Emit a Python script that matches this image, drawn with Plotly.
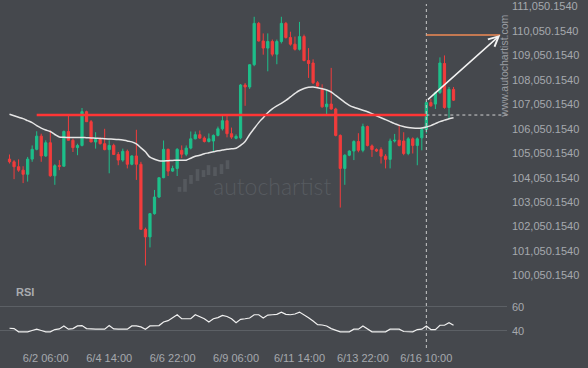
import plotly.graph_objects as go

# ---- data ----
idx = list(range(99))

opens = [104810,104700,104500,104360,104190,104810,105210,105750,104940,105480,
         104130,104540,104520,105940,105580,105280,105370,106750,106340,105510,
         105620,105440,105200,105370,105000,104770,105130,104600,104940,104600,
         101940,101630,102580,103260,104050,105210,104320,104430,105170,105010,
         105260,105640,105810,105670,105530,105550,105780,106050,106380,105850,
         105660,105680,107840,107760,108670,110360,109640,109350,109620,109100,
         109620,110360,109780,109510,109300,109820,108840,108740,107930,107660,
         106950,107060,106860,105780,104430,104970,105140,105530,105170,106140,
         105350,105200,105200,104930,104800,105550,105580,105550,105040,105640,
         105370,105680,106020,107120,107060,107530,108720,106920,107660]
highs = [105000,104770,104800,104520,104900,105370,105950,105850,105580,105980,
         104600,104770,105980,106590,105650,105440,106900,106790,106410,105910,
         105710,106050,105580,105440,105100,105240,105200,104970,106010,104700,
         102010,102610,103550,104050,105570,105240,104540,105260,105370,105370,
         105940,105940,105980,105740,105860,105820,106140,106590,106590,106100,
         105820,107880,107920,108690,110630,110420,109950,109950,109700,109700,
         110630,110420,110020,109820,110420,109900,109350,108890,108000,107870,
         107660,108540,106910,105820,105010,105170,105580,105870,106260,106180,
         105410,105250,105290,105010,105650,105840,106220,105910,105710,105700,
         105700,106100,107190,107270,107570,108970,109050,107760,107760]
lows = [104630,103990,104290,103830,103890,104700,105170,104700,104900,104090,
        103760,104360,104520,105580,105100,104970,105330,106340,105510,105240,
        105410,105170,104230,105000,104560,104700,104430,104560,103960,101940,
        100460,101200,102540,103220,104030,104120,104290,104120,104850,104930,
        105210,105620,105640,105490,105490,105100,105740,105980,105700,105640,
        105620,105620,106990,107680,108610,109620,109080,108400,109010,108690,
        109540,109740,109450,109250,109250,108810,108130,107880,107760,106910,
        106650,106830,105740,102830,103760,104930,104770,105090,105090,105330,
        104900,105100,104630,104430,104430,105490,105330,104970,104970,105040,
        104560,105170,105860,106950,106860,107470,106870,106460,107190]
closes = [104700,104500,104360,104190,104810,105210,105750,104940,105480,104130,
          104540,104520,105940,105580,105280,105370,106750,106340,105510,105620,
          105440,105200,105370,105000,104770,105130,104600,104940,104600,101940,
          101630,102580,103260,104050,105210,104320,104430,105210,105010,105260,
          105640,105810,105670,105530,105640,105780,106050,106380,105850,105710,
          105740,107840,107760,108670,110360,109640,109350,109620,109100,109620,
          110360,109780,109510,109300,109820,108840,108720,107930,107800,106950,
          107060,106860,105780,104430,104970,105140,105530,105170,106140,105370,
          105200,105140,104930,104800,105550,105580,105370,105040,105640,105370,
          105640,106020,107120,106990,107530,108740,106920,107660,107220]
ma = [106645,106585,106524,106464,106383,106302,106181,106080,106000,105938,
      105817,105716,105704,105696,105696,105696,105696,105684,105676,105664,
      105656,105643,105635,105627,105615,105595,105555,105514,105433,105272,
      105110,104888,104807,104746,104738,104746,104754,104766,104766,104766,
      104847,104928,104968,105029,105069,105110,105150,105179,105211,105231,
      105252,105373,105534,105817,106060,106302,106504,106706,106868,106989,
      107090,107211,107353,107494,107615,107696,107745,107757,107725,107684,
      107636,107555,107413,107272,107130,107009,106928,106868,106807,106746,
      106666,106585,106504,106423,106342,106262,106189,106140,106100,106080,
      106072,106080,106120,106181,106262,106342,106403,106464,106504]
rsi = [42.2,41.9,39.2,39.2,39.2,40.3,41.4,40.3,39.2,39.2,
       41.1,41.6,44.1,41.4,41.9,44.1,44.4,41.9,41.4,41.4,
       41.4,41.4,44.4,41.6,41.4,41.4,41.4,44.1,44.1,43.3,
       41.4,44.1,44.4,44.4,47.4,48.5,51.0,53.4,50.1,50.1,
       50.1,53.4,51.5,50.1,47.4,50.1,51.0,52.9,52.0,50.1,
       46.8,49.6,50.1,50.7,53.4,53.4,50.7,53.1,53.4,53.7,
       55.6,53.7,53.4,54.0,55.6,53.4,51.0,48.2,45.2,44.9,
       44.1,41.9,40.3,39.2,39.2,39.2,41.4,41.4,44.1,41.9,
       39.2,39.2,39.2,39.2,41.4,41.4,41.4,39.5,39.2,39.2,
       41.1,41.4,44.1,41.1,41.1,44.7,44.7,46.8,44.7]

x_tick_idx = [8, 22, 36, 50, 64, 78, 92]
x_tick_text = ["6/2 06:00", "6/4 14:00", "6/6 22:00", "6/9 06:00",
               "6/11 14:00", "6/13 22:00", "6/16 10:00"]
y_tick_vals = [100050.154 + 1000 * k for k in range(12)]
y_tick_text = ["{:,.4f}".format(v) for v in y_tick_vals]
rsi_ticks = [40, 60]

resistance = 106613
start_idx = 6
signal_idx = 92
target_price = 109886
target_idx = 108.3
arrow_start_price = 107190

BG = "#45484d"
GREEN = "#1dbf8a"
RED = "#f23c3c"
TXT = "#a6a9ad"

x_range = [-2.1, 109.8]

fig = go.Figure()
fig.add_trace(go.Candlestick(
    x=idx, open=opens, high=highs, low=lows, close=closes,
    increasing=dict(line=dict(color=GREEN, width=1), fillcolor=GREEN),
    decreasing=dict(line=dict(color=RED, width=1), fillcolor=RED),
    whiskerwidth=0, xaxis="x", yaxis="y", showlegend=False, hoverinfo="skip"))
fig.add_trace(go.Scatter(x=idx, y=ma, mode="lines",
                         line=dict(color="#e6e6e6", width=1.5, shape="spline"),
                         xaxis="x", yaxis="y", showlegend=False, hoverinfo="skip"))
fig.add_trace(go.Scatter(x=idx, y=rsi, mode="lines",
                         line=dict(color="#f0f0f0", width=1.2),
                         xaxis="x", yaxis="y2", showlegend=False, hoverinfo="skip"))

shapes = [
    dict(type="line", xref="x", yref="y", x0=start_idx, x1=signal_idx,
         y0=resistance, y1=resistance, line=dict(color="#ff3535", width=2.5)),
    dict(type="line", xref="x", yref="y", x0=signal_idx, x1=x_range[1],
         y0=resistance, y1=resistance, line=dict(color="#d0d0d0", width=1, dash="3px,3px")),
    dict(type="line", xref="x", yref="paper", x0=signal_idx, x1=signal_idx,
         y0=0, y1=1, line=dict(color="#c8c8c8", width=1, dash="3px,3px")),
    dict(type="line", xref="x", yref="y", x0=signal_idx, x1=target_idx,
         y0=target_price, y1=target_price, line=dict(color="#ef8a55", width=1.5)),
]

# autochartist logo bars (decoration)
W, H = 507.0, 348.0
logo = [(179.5, 185, 190), (185, 177, 190), (191, 173, 182), (197.5, 167, 179),
        (203.5, 168, 175), (208.5, 163, 173), (215, 165, 174), (221.5, 162, 172), (227.5, 158, 167)]
for cx, t, b in logo:
    shapes.append(dict(type="rect", xref="paper", yref="paper",
                       x0=(cx - 1.8) / W, x1=(cx + 1.8) / W, y0=1 - b / H, y1=1 - t / H,
                       line=dict(width=0), fillcolor="#55595e", layer="below"))

annotations = [
    dict(x=target_idx, y=target_price, ax=signal_idx, ay=arrow_start_price,
         xref="x", yref="y", axref="x", ayref="y", showarrow=True,
         arrowhead=5, arrowsize=1.3, arrowwidth=1.5, arrowcolor="#f2f2f2", text=""),
    dict(x=272 / W, y=1 - 184 / H, xref="paper", yref="paper", text="autochartist",
         showarrow=False, font=dict(family="Lato", size=23, color="#575b60", weight=300),
         xanchor="center", yanchor="middle"),
    dict(x=504.5 / W, y=1 - 63 / H, xref="paper", yref="paper", text="www.autochartist.com",
         showarrow=False, textangle=-90, font=dict(family="Liberation Sans", size=10.5, color="#9a9da2"),
         xanchor="center", yanchor="middle"),
    dict(x=14 / W, y=1 - 291 / H, xref="paper", yref="paper", text="<b>RSI</b>",
         showarrow=False, font=dict(family="Liberation Sans", size=11, color="#a9acb0"),
         xanchor="left", yanchor="middle"),
]

fig.update_layout(
    width=588, height=368,
    margin=dict(l=0, r=81, t=0, b=20),
    paper_bgcolor=BG, plot_bgcolor=BG,
    font=dict(family="Liberation Sans", size=11, color=TXT),
    showlegend=False,
    shapes=shapes, annotations=annotations,
    xaxis=dict(anchor="y2", range=x_range, tickvals=x_tick_idx, ticktext=x_tick_text,
               showgrid=False, zeroline=False, showline=False, ticks="",
               rangeslider=dict(visible=False), tickfont=dict(size=11, color=TXT),
               ticklabelstandoff=2, ticklabeloverflow="allow"),
    yaxis=dict(domain=[1 - 283 / H, 1], range=[99715, 111152], side="right",
               tickvals=y_tick_vals, ticktext=y_tick_text, showgrid=False,
               zeroline=False, showline=False, ticks="", tickfont=dict(size=11, color=TXT),
               ticklabelstandoff=4, ticklabeloverflow="allow"),
    yaxis2=dict(domain=[0, 1 - 285 / H], range=[25.8, 77.5], side="right",
                tickvals=rsi_ticks, showgrid=True, gridcolor="#5c6065", gridwidth=1,
                zeroline=False, showline=False, ticks="", tickfont=dict(size=11, color=TXT),
                ticklabelstandoff=4, ticklabeloverflow="allow"),
)

fig.write_html("out.html")
